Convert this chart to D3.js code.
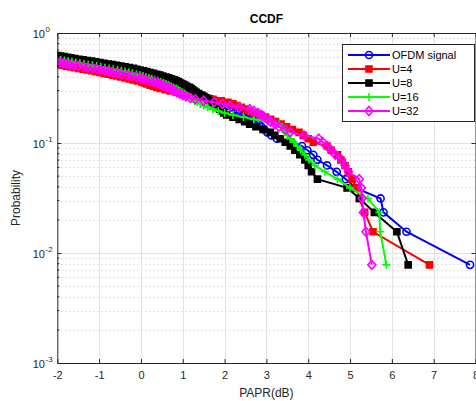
<!DOCTYPE html>
<head>
<meta charset="UTF-8">
<script src="https://cdn.jsdelivr.net/npm/d3@7/dist/d3.min.js"></script>
<style>
body { margin: 0; background: #fff; }
svg { display: block; font-family: "Liberation Sans", Arial, sans-serif; }
.grid-major { stroke: #e3e3e3; stroke-width: 1; }
.grid-minor { stroke: #c4c4c4; stroke-width: 1; stroke-dasharray: 1,3; }
.axis path, .axis line { stroke: #262626; }
.axis text { fill: #262626; font-size: 11px; }
</style>
</head>
<body>
<script>

// probability levels (k out of 128 samples exceed the PAPR), k = 1..
var probability = [0.0078, 0.0156, 0.0234, 0.0313, 0.0391, 0.0469, 0.0547, 0.0625, 0.0703, 0.0781,
    0.0859, 0.0938, 0.1016, 0.1094, 0.1172, 0.1250, 0.1328, 0.1406, 0.1484, 0.1563,
    0.1641, 0.1719, 0.1797, 0.1875, 0.1953, 0.2031, 0.2109, 0.2188, 0.2266, 0.2344,
    0.2422, 0.2500, 0.2578, 0.2656, 0.2734, 0.2813, 0.2891, 0.2969, 0.3047, 0.3125,
    0.3203, 0.3281, 0.3359, 0.3438, 0.3516, 0.3594, 0.3672, 0.3750, 0.3828, 0.3906,
    0.3984, 0.4063, 0.4141, 0.4219, 0.4297, 0.4375, 0.4453, 0.4531, 0.4609, 0.4688,
    0.4766, 0.4844, 0.4922, 0.5000, 0.5078, 0.5156, 0.5234, 0.5313, 0.5391, 0.5469,
    0.5547, 0.5625, 0.5703, 0.5781, 0.5859, 0.5938, 0.6016, 0.6094, 0.6172, 0.6250,
    0.6328];

// PAPR (dB) at each probability level
var paprOFDM = [7.87, 6.35, 5.80, 5.73, 5.13, 4.90, 4.68, 4.45, 4.22, 4.12,
    3.98, 3.85, 3.60, 3.25, 3.12, 3.02, 2.95, 2.88, 2.82, 2.75,
    2.68, 2.60, 2.52, 2.45, 2.36, 2.28, 2.18, 2.08, 1.98, 1.88,
    1.78, 1.68, 1.58, 1.48, 1.38, 1.28, 1.16, 1.04, 0.92, 0.80,
    0.70, 0.60, 0.50, 0.40, 0.30, 0.20, 0.10, 0.00, -0.10, -0.20,
    -0.30, -0.40, -0.50, -0.60, -0.70, -0.80, -0.90, -1.00, -1.10, -1.20,
    -1.30, -1.40, -1.50, -1.60, -1.70, -1.80, -1.90, -2.00, -2.10];

var paprU4 = [6.90, 5.55, 5.35, 5.22, 5.15, 5.05, 4.96, 4.88, 4.78, 4.70,
    4.55, 4.45, 4.12, 4.00, 3.88, 3.78, 3.62, 3.48, 3.35, 3.22,
    3.10, 2.98, 2.86, 2.72, 2.60, 2.50, 2.40, 2.30, 2.20, 2.08,
    1.92, 1.72, 1.52, 1.32, 1.12, 0.98, 0.84, 0.70, 0.58, 0.46,
    0.38, 0.30, 0.22, 0.14, 0.08, 0.02, -0.08, -0.18, -0.28, -0.38,
    -0.48, -0.58, -0.68, -0.78, -0.88, -0.98, -1.08, -1.18, -1.28, -1.38,
    -1.48, -1.58, -1.68, -1.78, -1.88, -1.96, -2.05];

var paprU8 = [6.39, 6.12, 5.58, 5.23, 4.93, 4.22, 4.08, 4.00, 3.92, 3.80,
    3.68, 3.57, 3.45, 3.33, 3.20, 3.09, 2.92, 2.75, 2.60, 2.48,
    2.35, 2.20, 2.05, 1.98, 1.93, 1.88, 1.83, 1.78, 1.74, 1.70,
    1.65, 1.60, 1.55, 1.50, 1.45, 1.38, 1.32, 1.28, 1.24, 1.20,
    1.16, 1.10, 1.05, 1.00, 0.95, 0.90, 0.85, 0.80, 0.73, 0.66,
    0.60, 0.52, 0.45, 0.38, 0.30, 0.22, 0.14, 0.06, -0.02, -0.10,
    -0.18, -0.28, -0.38, -0.48, -0.58, -0.68, -0.78, -0.88, -0.98, -1.08,
    -1.18, -1.28, -1.38, -1.48, -1.58, -1.68, -1.76, -1.84, -1.92, -2.00,
    -2.08];

var paprU16 = [5.87, 5.72, 5.70, 5.43, 5.00, 4.70, 4.40, 4.16, 4.02, 3.92,
    3.82, 3.74, 3.66, 3.57, 3.50, 3.45, 3.40, 3.35, 3.30, 3.05,
    2.70, 2.45, 2.20, 2.00, 1.85, 1.72, 1.60, 1.50, 1.42, 1.35,
    1.28, 1.22, 1.16, 1.12, 1.08, 1.04, 0.99, 0.94, 0.89, 0.84,
    0.78, 0.72, 0.66, 0.60, 0.54, 0.47, 0.40, 0.33, 0.26, 0.19,
    0.12, 0.05, -0.03, -0.11, -0.20, -0.29, -0.38, -0.47, -0.56, -0.66,
    -0.76, -0.86, -0.96, -1.06, -1.16, -1.26, -1.36, -1.46, -1.56, -1.65,
    -1.74, -1.83, -1.92, -2.01, -2.10];

var paprU32 = [5.52, 5.38, 5.32, 5.29, 5.27, 5.22, 4.96, 4.88, 4.80, 4.65,
    4.55, 4.45, 4.35, 4.25, 3.90, 3.57, 3.45, 3.30, 3.20, 3.10,
    3.02, 2.95, 2.88, 2.80, 2.70, 2.60, 2.35, 2.13, 1.95, 1.75,
    1.50, 1.30, 1.18, 1.08, 1.00, 0.93, 0.86, 0.80, 0.75, 0.70,
    0.64, 0.57, 0.50, 0.45, 0.40, 0.32, 0.22, 0.12, 0.05, 0.00,
    -0.10, -0.22, -0.33, -0.45, -0.55, -0.66, -0.76, -0.85, -0.95, -1.05,
    -1.15, -1.27, -1.38, -1.50, -1.60, -1.70, -1.78, -1.86, -1.94, -2.02,
    -2.10];

var seriesNames = ["OFDM signal", "U=4", "U=8", "U=16", "U=32"];
var seriesValues = [paprOFDM, paprU4, paprU8, paprU16, paprU32];
var seriesColors = ["#0000ff", "#ff0000", "#000000", "#00ff00", "#ff00ff"];
var seriesMarkers = ["circle", "squareFill", "squareFill", "plus", "diamond"];

var xTicks = [-2, -1, 0, 1, 2, 3, 4, 5, 6, 7, 8];
var yDecades = [1e-3, 1e-2, 1e-1, 1];
var yExponents = ["-3", "-2", "-1", "0"];

var width = 476,
    height = 401;
var pLeft = 57.3, pRight = 475.5, pTop = 33, pBottom = 363;

var x = d3.scaleLinear().domain([-2, 8]).range([pLeft, pRight]);
var y = d3.scaleLog().domain([1e-3, 1]).range([pBottom, pTop]);

var svg = d3.select("body").append("svg")
    .attr("width", width)
    .attr("height", height);

svg.append("defs").append("clipPath")
    .attr("id", "clip")
  .append("rect")
    .attr("x", pLeft).attr("y", pTop)
    .attr("width", pRight - pLeft).attr("height", pBottom - pTop);

// minor grid (y only)
var minor = [];
[1e-3, 1e-2, 1e-1].forEach(function(d) {
    for (var m = 2; m <= 9; m++) minor.push(d * m);
});

svg.append("g").selectAll("line")
    .data(minor)
    .enter().append("line")
    .attr("class", "grid-minor")
    .attr("x1", pLeft).attr("x2", pRight)
    .attr("y1", function(d) { return Math.round(y(d)) + 0.5; })
    .attr("y2", function(d) { return Math.round(y(d)) + 0.5; });

svg.append("g").selectAll("line")
    .data(xTicks.slice(1, -1))
    .enter().append("line")
    .attr("class", "grid-major")
    .attr("x1", function(d) { return Math.round(x(d)) + 0.5; })
    .attr("x2", function(d) { return Math.round(x(d)) + 0.5; })
    .attr("y1", pTop).attr("y2", pBottom);

svg.append("g").selectAll("line")
    .data(yDecades.slice(1, -1))
    .enter().append("line")
    .attr("class", "grid-major")
    .attr("x1", pLeft).attr("x2", pRight)
    .attr("y1", function(d) { return Math.round(y(d)) + 0.5; })
    .attr("y2", function(d) { return Math.round(y(d)) + 0.5; });

// series
var line = d3.line()
    .x(function(d) { return x(d[0]); })
    .y(function(d) { return y(d[1]); });

function markerPath(type) {
    if (type === "circle") return d3.symbol().type(d3.symbolCircle).size(40)();
    if (type === "squareFill") return "M-3,-3H3V3H-3Z";
    if (type === "plus") return "M-4,0H4M0,-4V4";
    if (type === "diamond") return "M0,-4.5L4,0L0,4.5L-4,0Z";
}

var plot = svg.append("g").attr("clip-path", "url(#clip)");

seriesValues.forEach(function(vals, i) {
    var pts = vals.map(function(v, k) { return [v, probability[k]]; });
    var g = plot.append("g");
    g.append("path")
        .datum(pts)
        .attr("fill", "none")
        .attr("stroke", seriesColors[i])
        .attr("stroke-width", 2)
        .attr("d", line);
    var mk = seriesMarkers[i];
    g.selectAll(".m")
        .data(pts)
        .enter().append("path")
        .attr("transform", function(d) { return "translate(" + x(d[0]) + "," + y(d[1]) + ")"; })
        .attr("d", markerPath(mk))
        .attr("fill", mk === "squareFill" ? seriesColors[i] : "none")
        .attr("stroke", seriesColors[i])
        .attr("stroke-width", 1.6);
});

// axes
svg.append("g")
    .attr("class", "axis")
    .attr("transform", "translate(0," + pBottom + ")")
    .call(d3.axisBottom(x).tickValues(xTicks).tickSize(-4).tickSizeOuter(0).tickPadding(8)
        .tickFormat(function(d) { return String(d); }));

svg.append("g")
    .attr("class", "axis")
    .attr("transform", "translate(0," + pTop + ")")
    .call(d3.axisTop(x).tickValues(xTicks).tickSize(-4).tickSizeOuter(0).tickFormat(""));

var yAx = svg.append("g")
    .attr("class", "axis")
    .attr("transform", "translate(" + pLeft + ",0)")
    .call(d3.axisLeft(y).tickValues(yDecades).tickSize(-4).tickSizeOuter(0).tickFormat(""));

yAx.selectAll(".minor")
    .data(minor)
    .enter().append("line")
    .attr("stroke", "#262626")
    .attr("x1", 0).attr("x2", 2)
    .attr("y1", function(d) { return y(d); })
    .attr("y2", function(d) { return y(d); });

svg.append("g")
    .attr("class", "axis")
    .attr("transform", "translate(" + pRight + ",0)")
    .call(d3.axisRight(y).tickValues(yDecades).tickSize(-4).tickSizeOuter(0).tickFormat(""));

yDecades.forEach(function(d, i) {
    svg.append("text")
        .attr("x", 45).attr("y", y(d) + 5)
        .attr("text-anchor", "end")
        .attr("font-size", 11).attr("fill", "#262626")
        .text("10");
    svg.append("text")
        .attr("x", 45.5).attr("y", y(d) - 1)
        .attr("font-size", 8).attr("fill", "#262626")
        .text(yExponents[i]);
});

// labels
svg.append("text")
    .attr("x", (pLeft + pRight) / 2).attr("y", 23)
    .attr("text-anchor", "middle")
    .attr("font-size", 12).attr("font-weight", "bold").attr("fill", "#000")
    .text("CCDF");

svg.append("text")
    .attr("x", (pLeft + pRight) / 2).attr("y", 397)
    .attr("text-anchor", "middle")
    .attr("font-size", 12).attr("fill", "#262626")
    .text("PAPR(dB)");

svg.append("text")
    .attr("transform", "translate(20," + ((pTop + pBottom) / 2) + ") rotate(-90)")
    .attr("text-anchor", "middle")
    .attr("font-size", 12).attr("fill", "#262626")
    .text("Probability");

// legend
var lg = svg.append("g").attr("transform", "translate(342,44)");
lg.append("rect")
    .attr("x", 0.5).attr("y", 0.5)
    .attr("width", 132).attr("height", 77)
    .attr("fill", "#fff").attr("stroke", "#262626").attr("stroke-width", 1);

seriesNames.forEach(function(name, i) {
    var row = lg.append("g").attr("transform", "translate(0," + (11 + i * 14) + ")");
    row.append("line")
        .attr("x1", 6).attr("x2", 48)
        .attr("stroke", seriesColors[i]).attr("stroke-width", 2);
    var mk = seriesMarkers[i];
    row.append("path")
        .attr("transform", "translate(27,0)")
        .attr("d", markerPath(mk))
        .attr("fill", mk === "squareFill" ? seriesColors[i] : "none")
        .attr("stroke", seriesColors[i]).attr("stroke-width", 1.6);
    row.append("text")
        .attr("x", 50).attr("y", 4)
        .attr("font-size", 11).attr("fill", "#000")
        .text(name);
});

</script>
</body>
